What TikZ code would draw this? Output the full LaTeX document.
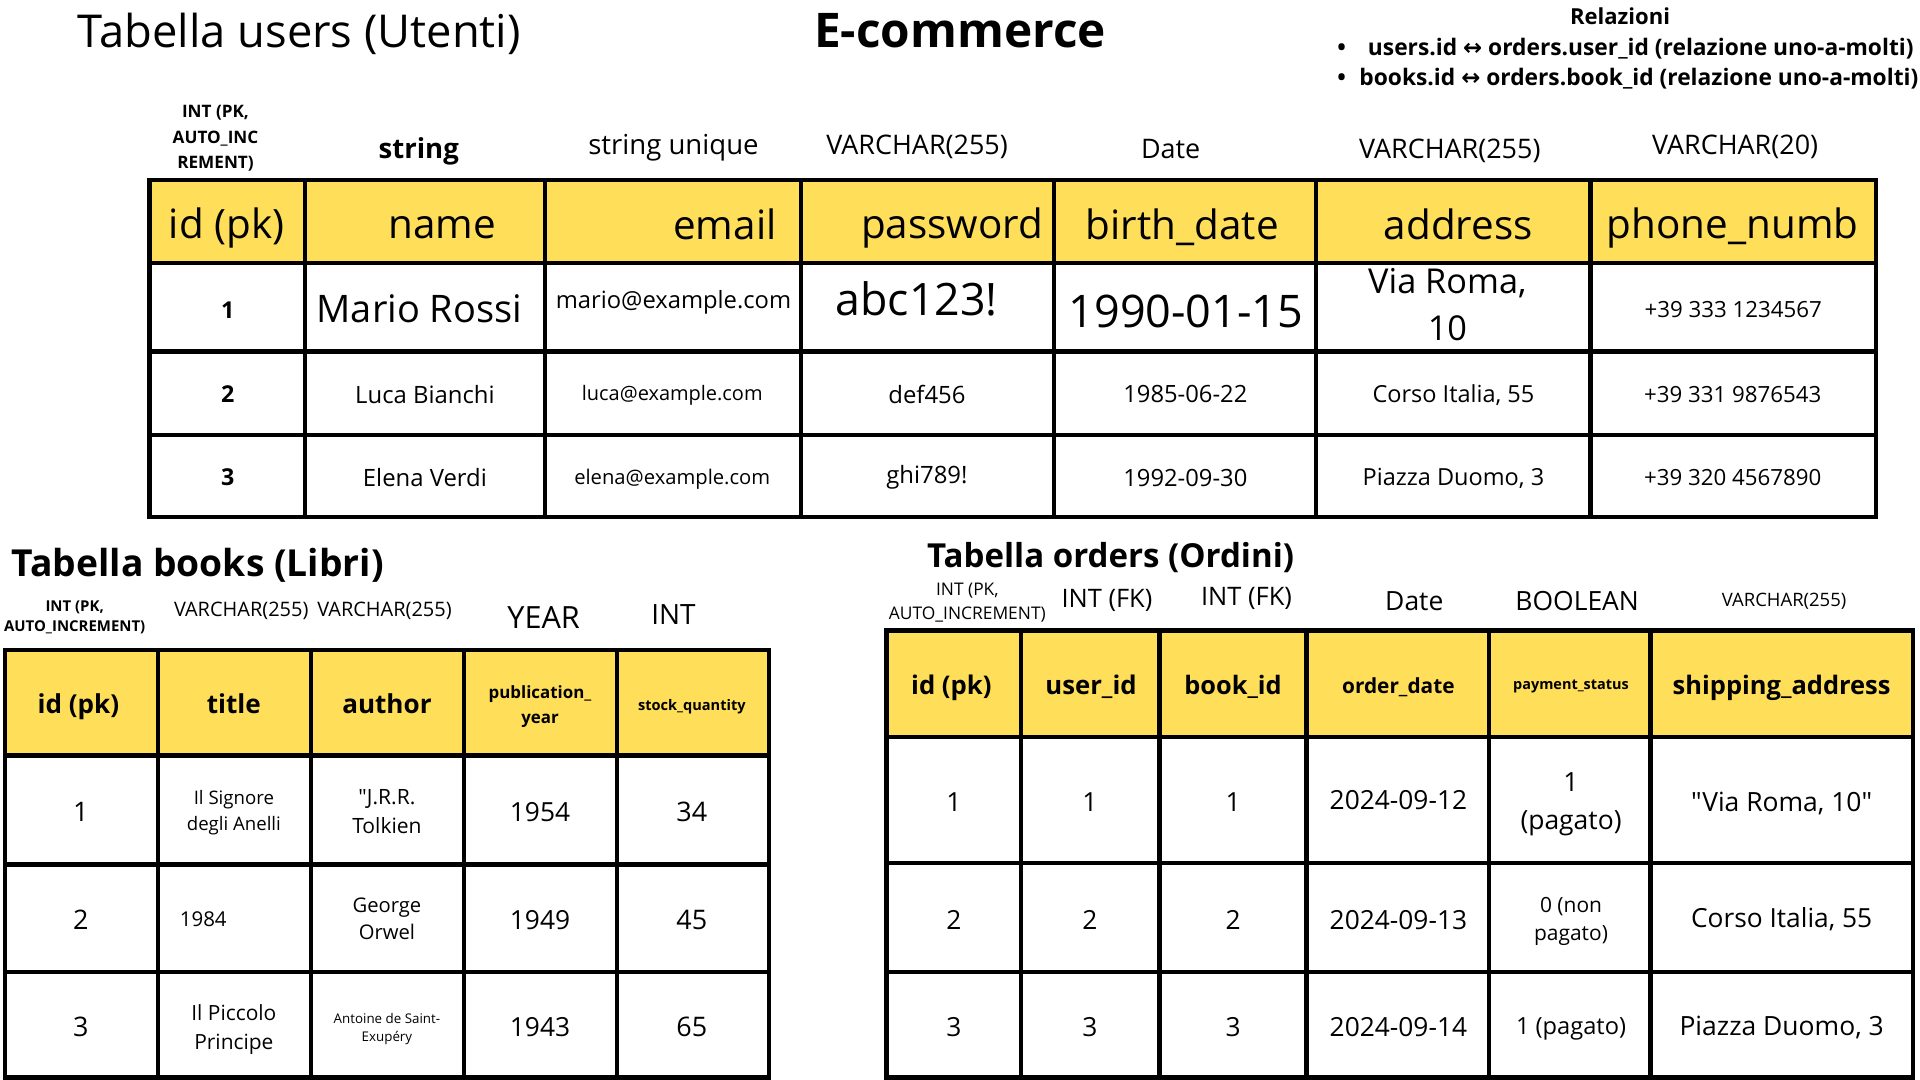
\documentclass[tikz,border=0pt]{standalone}
\usepackage{fontspec}
\setmainfont{Open Sans}[Ligatures=TeXOff]
\newfontfamily\djv{DejaVu Sans}
\definecolor{hdr}{HTML}{FFDE59}
\newcommand\fsz[2]{\fontsize{#1}{#2}\selectfont}
\tikzset{
  tx/.style={inner sep=0pt, align=center, text=black},
  gridline/.style={line width=3.5pt, black},
  hdrfill/.style={fill=hdr}
}
\begin{document}
\begin{tikzpicture}[x=1pt,y=-1pt]
\useasboundingbox (0,0) rectangle (1568,882);
\fill[white] (0,0) rectangle (1568,882);

% ---------- titles ----------
\node[tx, font=\fsz{37}{44}] (tusers) at (244.5,28) {Tabella users (Utenti)};
\node[tx, font=\bfseries\fsz{39}{46}] (tmain) at (784,25) {E-commerce};
\node[tx, font=\bfseries\fsz{18}{22}] (trel) at (1323,13) {Relazioni};
\node[tx, anchor=west, font=\bfseries\fsz{18.6}{22}] (rel1) at (1092,39.5) {•\hspace{18pt}users.id {\djv\bfseries ↔} orders.user\_id (relazione uno-a-molti)};
\node[tx, anchor=west, font=\bfseries\fsz{18.6}{22}] (rel2) at (1092,64.5) {•\hspace{11pt}books.id {\djv\bfseries ↔} orders.book\_id (relazione uno-a-molti)};

% ---------- users table ----------
\fill[hdrfill] (122,147) rectangle (1532,215);
\draw[gridline] (122,147) rectangle (1532,422);
\foreach \yy in {215,287,355} \draw[gridline] (122,\yy) -- (1532,\yy);
\foreach \xx in {249,445,654,861,1075,1299} \draw[gridline] (\xx,147) -- (\xx,422);

% types
\node[tx, font=\bfseries\fsz{14}{21}] (ut1) at (176,113) {INT (PK,\\AUTO\_INC\\REMENT)};
\node[tx, font=\bfseries\fsz{22.5}{27}] (ut2) at (342,124) {string};
\node[tx, font=\fsz{22.5}{27}] (ut3) at (550,121) {string unique};
\node[tx, font=\fsz{22}{27}] (ut4) at (749,120) {VARCHAR(255)};
\node[tx, font=\fsz{22}{27}] (ut5) at (956,122) {Date};
\node[tx, font=\fsz{22}{27}] (ut6) at (1184,123) {VARCHAR(255)};
\node[tx, font=\fsz{22}{27}] (ut7) at (1417,120) {VARCHAR(20)};

% header
\node[tx, font=\fsz{33}{40}] (uh1) at (185,186) {id (pk)};
\node[tx, font=\fsz{33}{40}] (uh2) at (361,186) {name};
\node[tx, font=\fsz{33}{40}] (uh3) at (592,183) {email};
\node[tx, font=\fsz{33}{40}] (uh4) at (777.5,186) {password};
\node[tx, font=\fsz{33}{40}] (uh5) at (965.5,186) {birth\_date};
\node[tx, font=\fsz{33}{40}] (uh6) at (1191,183) {address};
\node[tx, font=\fsz{33}{40}] (uh7) at (1415,186) {phone\_numb};

% row 1
\node[tx, font=\bfseries\fsz{19}{23}] (u11) at (186,253) {1};
\node[tx, font=\fsz{31}{37}] (u12) at (342.5,252) {Mario Rossi};
\node[tx, font=\fsz{19.4}{23}] (u13) at (550,247) {mario@example.com};
\node[tx, font=\fsz{36.5}{44}] (u14) at (748.5,244) {abc123!};
\node[tx, font=\fsz{36.7}{44}] (u15) at (968.5,254) {1990-01-15};
\node[tx, font=\fsz{28}{38.5}] (u16) at (1182,249) {Via Roma,\\10};
\node[tx, font=\fsz{18.2}{22}] (u17) at (1415.5,253) {+39 333 1234567};
% row 2
\node[tx, font=\bfseries\fsz{19}{23}] (u21) at (186,322) {2};
\node[tx, font=\fsz{19.5}{23}] (u22) at (347,322) {Luca Bianchi};
\node[tx, font=\fsz{16.3}{20}] (u23) at (549,323) {luca@example.com};
\node[tx, font=\fsz{19.5}{23}] (u24) at (757,322) {def456};
\node[tx, font=\fsz{19.4}{23}] (u25) at (968,322) {1985-06-22};
\node[tx, font=\fsz{19.2}{23}] (u26) at (1187,323) {Corso Italia, 55};
\node[tx, font=\fsz{18.2}{22}] (u27) at (1415,322) {+39 331 9876543};
% row 3
\node[tx, font=\bfseries\fsz{19}{23}] (u31) at (186,390) {3};
\node[tx, font=\fsz{19.5}{23}] (u32) at (347,390) {Elena Verdi};
\node[tx, font=\fsz{16.5}{20}] (u33) at (549,391) {elena@example.com};
\node[tx, font=\fsz{19.5}{23}] (u34) at (757,390) {ghi789!};
\node[tx, font=\fsz{19.4}{23}] (u35) at (968,390) {1992-09-30};
\node[tx, font=\fsz{19.2}{23}] (u36) at (1187,391) {Piazza Duomo, 3};
\node[tx, font=\fsz{18.2}{22}] (u37) at (1415,390) {+39 320 4567890};

% ---------- books table ----------
\node[tx, font=\bfseries\fsz{30.4}{36}] (tbooks) at (161.5,462) {Tabella books (Libri)};
\fill[hdrfill] (4,531) rectangle (628,617);
\draw[gridline] (4,531) rectangle (628,880);
\foreach \yy in {617,706,794} \draw[gridline] (4,\yy) -- (628,\yy);
\foreach \xx in {129,254,379,504} \draw[gridline] (\xx,531) -- (\xx,880);

\node[tx, font=\bfseries\fsz{12.2}{16}] (bt1) at (61,504) {INT (PK,\\AUTO\_INCREMENT)};
\node[tx, font=\fsz{16.3}{20}] (bt2) at (197,499) {VARCHAR(255)};
\node[tx, font=\fsz{16.3}{20}] (bt3) at (314,499) {VARCHAR(255)};
\node[tx, font=\fsz{25}{30}] (bt4) at (444,504) {YEAR};
\node[tx, font=\fsz{22.8}{27}] (bt5) at (550,502) {INT};

\node[tx, font=\bfseries\fsz{21.3}{26}] (bh1) at (64,577) {id (pk)};
\node[tx, font=\bfseries\fsz{21.3}{26}] (bh2) at (191,575) {title};
\node[tx, font=\bfseries\fsz{21.3}{26}] (bh3) at (316,575) {author};
\node[tx, font=\bfseries\fsz{13.8}{20}] (bh4) at (441,577) {publication\_\\year};
\node[tx, font=\bfseries\fsz{11.9}{15}] (bh5) at (565,577) {stock\_quantity};

\node[tx, font=\fsz{22}{27}] (b11) at (66,663) {1};
\node[tx, font=\fsz{15.2}{21.5}] (b12) at (191,663.5) {Il Signore\\degli Anelli};
\node[tx, font=\fsz{17.2}{24}] (b13) at (316,663) {"J.R.R.\\Tolkien};
\node[tx, font=\fsz{21.5}{26}] (b14) at (441,663) {1954};
\node[tx, font=\fsz{22}{27}] (b15) at (565,663) {34};

\node[tx, font=\fsz{22}{27}] (b21) at (66,751) {2};
\node[tx, font=\fsz{16.7}{20}] (b22) at (166,751) {1984};
\node[tx, font=\fsz{16.5}{22}] (b23) at (316,750.5) {George\\Orwel};
\node[tx, font=\fsz{21.5}{26}] (b24) at (441,751) {1949};
\node[tx, font=\fsz{22}{27}] (b25) at (565,751) {45};

\node[tx, font=\fsz{22}{27}] (b31) at (66,839) {3};
\node[tx, font=\fsz{17.1}{24}] (b32) at (191,841) {Il Piccolo\\Principe};
\node[tx, font=\fsz{10.9}{15}] (b33) at (316,840.5) {Antoine de Saint-\\Exupéry};
\node[tx, font=\fsz{21.5}{26}] (b34) at (441,839) {1943};
\node[tx, font=\fsz{22}{27}] (b35) at (565,839) {65};

% ---------- orders table ----------
\node[tx, font=\bfseries\fsz{27}{32}] (torders) at (907,455) {Tabella orders (Ordini)};
\fill[hdrfill] (724,515) rectangle (1562,602);
\draw[gridline] (724,515) rectangle (1562,880);
\foreach \yy in {602,705,794} \draw[gridline] (724,\yy) -- (1562,\yy);
\foreach \xx in {834,947,1067,1216,1348} \draw[gridline] (\xx,515) -- (\xx,880);

\node[tx, font=\fsz{14.2}{19.5}] (ot1) at (790,492.5) {INT (PK,\\AUTO\_INCREMENT)};
\node[tx, font=\fsz{20.8}{25}] (ot2) at (904,490) {INT (FK)};
\node[tx, font=\fsz{20.8}{25}] (ot3) at (1018,489) {INT (FK)};
\node[tx, font=\fsz{21.6}{26}] (ot4) at (1155,491) {Date};
\node[tx, font=\fsz{21.6}{26}] (ot5) at (1288,491) {BOOLEAN};
\node[tx, font=\fsz{15.1}{19}] (ot6) at (1457,491) {VARCHAR(255)};

\node[tx, font=\bfseries\fsz{21}{26}] (oh1) at (777,562) {id (pk)};
\node[tx, font=\bfseries\fsz{21}{26}] (oh2) at (891,561) {user\_id};
\node[tx, font=\bfseries\fsz{20.7}{26}] (oh3) at (1007,561) {book\_id};
\node[tx, font=\bfseries\fsz{17}{21}] (oh4) at (1142,561) {order\_date};
\node[tx, font=\bfseries\fsz{11.8}{15}] (oh5) at (1283,561) {payment\_status};
\node[tx, font=\bfseries\fsz{20.8}{26}] (oh6) at (1455,562) {shipping\_address};

\node[tx, font=\fsz{21.5}{26}] (o11) at (779,655) {1};
\node[tx, font=\fsz{21.5}{26}] (o12) at (890,655) {1};
\node[tx, font=\fsz{21.5}{26}] (o13) at (1007,655) {1};
\node[tx, font=\fsz{21.5}{26}] (o14) at (1142,653) {2024-09-12};
\node[tx, font=\fsz{21.6}{31}] (o15) at (1283,657) {1\\(pagato)};
\node[tx, font=\fsz{21.6}{26}] (o16) at (1455,656) {"Via Roma, 10"};

\node[tx, font=\fsz{21.5}{26}] (o21) at (779,751) {2};
\node[tx, font=\fsz{21.5}{26}] (o22) at (890,751) {2};
\node[tx, font=\fsz{21.5}{26}] (o23) at (1007,751) {2};
\node[tx, font=\fsz{21.5}{26}] (o24) at (1142,751) {2024-09-13};
\node[tx, font=\fsz{17.1}{23}] (o25) at (1283,752.5) {0 (non\\pagato)};
\node[tx, font=\fsz{21.5}{26}] (o26) at (1455,751) {Corso Italia, 55};

\node[tx, font=\fsz{21.5}{26}] (o31) at (779,839) {3};
\node[tx, font=\fsz{21.5}{26}] (o32) at (890,839) {3};
\node[tx, font=\fsz{21.5}{26}] (o33) at (1007,839) {3};
\node[tx, font=\fsz{21.5}{26}] (o34) at (1142,839) {2024-09-14};
\node[tx, font=\fsz{19.3}{24}] (o35) at (1283,840) {1 (pagato)};
\node[tx, font=\fsz{21.6}{26}] (o36) at (1455,839) {Piazza Duomo, 3};
\end{tikzpicture}
\end{document}
